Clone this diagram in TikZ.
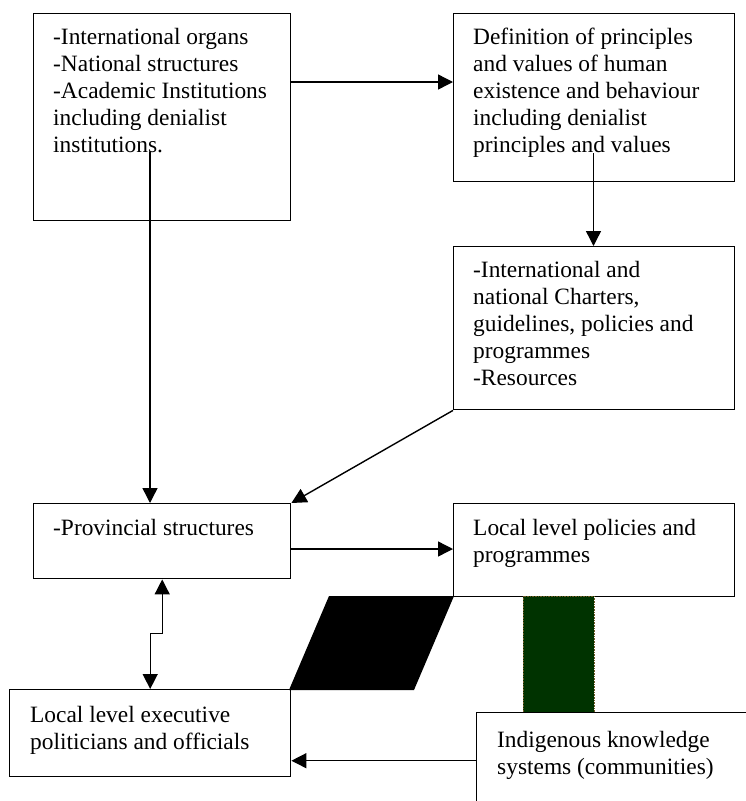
\documentclass[tikz,border=0pt]{standalone}
\usepackage{fontspec}
\setmainfont{Liberation Serif}
\usetikzlibrary{arrows.meta}
\definecolor{darkgreenfill}{RGB}{0,51,0}
\definecolor{dotbrown}{RGB}{110,90,40}
\newcommand\mylines[1]{\begin{minipage}[t]{330pt}\raggedright #1\end{minipage}}
\begin{document}
\begin{tikzpicture}[x=1pt,y=-1pt,
  box/.style={draw, line width=1.4pt, rectangle, inner sep=0pt, anchor=north west},
  txt/.style={anchor=base west, inner sep=0pt, font=\fontsize{23.4}{27}\selectfont},
  arr/.style={line width=1.4pt, -{Triangle[length=15pt,width=15pt]}},
  darr/.style={line width=1.4pt, {Triangle[length=15pt,width=15pt]}-{Triangle[length=15pt,width=15pt]}},
]
\clip (0,0) rectangle (746,801);
\fill[white] (0,0) rectangle (746,801);

% boxes
\node[box, minimum width=257pt, minimum height=207pt] (b1) at (33,13) {};
\node[box, minimum width=281pt, minimum height=168pt] (b2) at (453,13) {};
\node[box, minimum width=281pt, minimum height=163pt] (b3) at (453,246) {};
\node[box, minimum width=257pt, minimum height=75pt] (prov) at (33,503) {};
\node[box, minimum width=281pt, minimum height=93pt] (llp) at (453,503) {};
\node[box, minimum width=281pt, minimum height=87pt] (lex) at (9,689) {};

% decorative shapes
\fill[black] (329,596) -- (454,596) -- (414,690) -- (289,690) -- cycle;
\fill[darkgreenfill] (523,596) rectangle (594,712);
\draw[densely dotted, line width=0.6pt, dotbrown] (523,596) rectangle (594,712);

\node[box, fill=white, minimum width=300pt, minimum height=96pt] (ind) at (476,712) {};

% texts
\node[txt] (t1) at (53,44) {\mylines{-International organs\\-National structures\\-Academic Institutions\\including denialist\\institutions.}};
\node[txt] (t2) at (473,44) {\mylines{Definition of principles\\and values of human\\existence and behaviour\\including denialist\\principles and values}};
\node[txt] (t3) at (473,277) {\mylines{-International and\\national Charters,\\guidelines, policies and\\programmes\\-Resources}};
\node[txt] (t4) at (53,535) {\mylines{-Provincial structures}};
\node[txt] (t5) at (473,535) {\mylines{Local level policies and\\programmes}};
\node[txt] (t6) at (30,722) {\mylines{Local level executive\\politicians and officials}};
\node[txt] (t7) at (497,747) {\mylines{Indigenous knowledge\\systems (communities)}};

% connectors
\coordinate (s1) at (150,152);
\coordinate (s2) at (593.5,153);
\draw[arr] (b1.east |- 0,82) -- (b2.west |- 0,82);
\draw[arr] (s1) -- (prov.north -| s1);
\draw[arr] (s2) -- (b3.north -| s2);
\draw[arr] (b3.south west) -- (prov.north east);
\draw[arr] (prov.east |- 0,549) -- (llp.west |- 0,549);
\draw[darr] (prov.south) -- ++(0,54) -| (lex.north);
\draw[arr] (ind.west) -- (lex.east |- ind.west);
\end{tikzpicture}
\end{document}
